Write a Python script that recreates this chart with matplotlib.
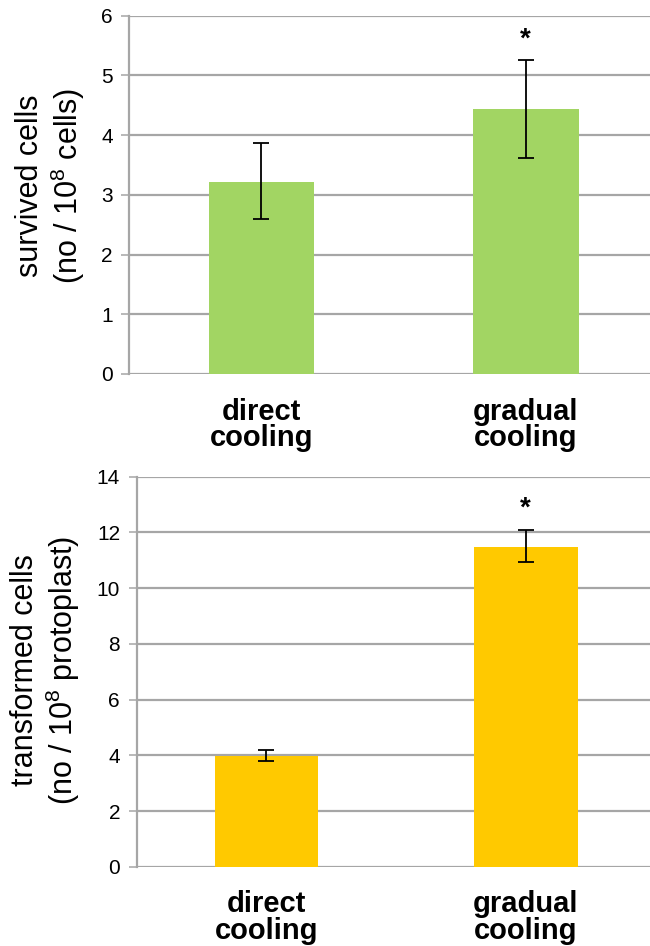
import matplotlib
matplotlib.use("Agg")
import matplotlib.pyplot as plt

plt.rcParams['font.family'] = ['Liberation Sans', 'DejaVu Sans']
plt.rcParams['mathtext.fontset'] = 'custom'
plt.rcParams['mathtext.rm'] = 'Liberation Sans'
plt.rcParams['mathtext.it'] = 'Liberation Sans:italic'
plt.rcParams['mathtext.bf'] = 'Liberation Sans:bold'

categories = ['direct\ncooling', 'gradual\ncooling']

survived = [3.22, 4.44]
survived_lo = [2.60, 3.62]
survived_hi = [3.87, 5.25]
survived_sig = ['', '*']

transformed = [3.98, 11.46]
transformed_lo = [3.81, 10.93]
transformed_hi = [4.19, 12.09]
transformed_sig = ['', '*']

grid_col = '#a6a6a6'


def panel(ax, vals, lo, hi, sig, color, ymax, ystep):
    x = range(len(vals))
    yerr = [[v - l for v, l in zip(vals, lo)], [h - v for v, h in zip(vals, hi)]]
    ax.bar(x, vals, width=0.40, color=color, zorder=2)
    ax.errorbar(x, vals, yerr=yerr, fmt='none', ecolor='black',
                elinewidth=1.3, capsize=5.5, capthick=1.3, zorder=3)
    for xi, h, s in zip(x, hi, sig):
        if s:
            ax.annotate(s, (xi, h), xytext=(0, 15), textcoords='offset points',
                        ha='center', va='center', fontsize=20, fontweight='bold')
    ax.set_xlim(-0.5, len(vals) - 0.5)
    ax.set_ylim(0, ymax)
    ax.set_yticks(range(0, ymax + 1, ystep))
    ax.set_xticks(list(x))
    ax.set_xticklabels(categories, fontsize=21, fontweight='bold', linespacing=0.95)
    ax.tick_params(axis='x', length=0, pad=17)
    ax.tick_params(axis='y', length=6, width=1.1, color=grid_col, labelsize=15, pad=6)
    ax.grid(axis='y', color=grid_col, linewidth=1.6, zorder=0)
    ax.set_axisbelow(True)
    for side in ['top', 'right', 'bottom']:
        ax.spines[side].set_visible(False)
    ax.spines['left'].set_color(grid_col)
    ax.spines['left'].set_linewidth(1.6)


fig = plt.figure(figsize=(6.5, 9.46), dpi=100)

ax1 = fig.add_axes([0.199, 0.6047, 0.813, 0.3787])
panel(ax1, survived, survived_lo, survived_hi, survived_sig, '#a2d563', 6, 1)
fig.text(0.0785, 0.8034, 'survived cells\n(no / 10$^{8}$ cells)', rotation=90,
         ha='center', va='center', multialignment='center', fontsize=22, linespacing=1.15)

ax2 = fig.add_axes([0.2103, 0.0838, 0.798, 0.4123])
panel(ax2, transformed, transformed_lo, transformed_hi, transformed_sig, '#ffc900', 14, 2)
fig.text(0.0708, 0.2918, 'transformed cells\n(no / 10$^{8}$ protoplast)', rotation=90,
         ha='center', va='center', multialignment='center', fontsize=22, linespacing=1.15)

fig.savefig('out.png', dpi=100)
